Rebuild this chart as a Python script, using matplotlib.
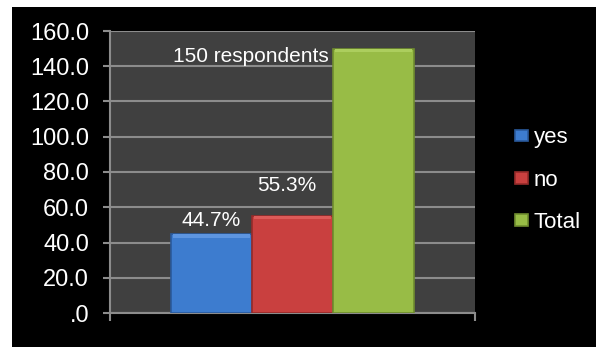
import numpy as np
import matplotlib
matplotlib.use('Agg')
import matplotlib.pyplot as plt
from matplotlib.patches import Rectangle

plt.rcParams['font.family'] = ['Liberation Sans', 'DejaVu Sans']

# Datos
series = ['yes', 'no', 'Total']
valores = [44.7, 55.3, 150.0]
etiquetas = ['44.7%', '55.3%', '150 respondents']
colores = ['#3d7ccf', '#c9403f', '#98bc46']
bordes = ['#2a5a9c', '#952b2a', '#6f8c2e']
brillo = ['#5d95e0', '#db5a58', '#acce5e']
yticks = np.arange(0, 161, 20)
ytick_labels = ['.0'] + ['%.1f' % v for v in yticks[1:]]

fig = plt.figure(figsize=(5.96, 3.47), dpi=100)
fig.patch.set_facecolor('white')
# fondo negro (deja un margen blanco arriba y a la izquierda)
fig.add_artist(Rectangle((12 / 596, 0), 1, 1 - 7 / 347, transform=fig.transFigure,
                         facecolor='black', edgecolor='none', zorder=0))

ax = fig.add_axes([110 / 596, 34 / 347, 365 / 596, 282 / 347])
ax.set_facecolor('#404040')

ancho = 0.222
pos = (np.arange(len(valores)) - 1) * ancho
for x, v, c, b, br, s in zip(pos, valores, colores, bordes, brillo, series):
    ax.bar(x, v, width=ancho, color=c, edgecolor=b, linewidth=1.2, label=s, zorder=3)
    # borde superior brillante (efecto biselado)
    ax.bar(x, 2.0, bottom=v - 2.0, width=ancho * 0.95, color=br, linewidth=0, zorder=4)

gris = '#8c8c8c'
ax.set_ylim(0, 160)
ax.set_xlim(-0.5, 0.5)
ax.set_yticks(yticks)
ax.set_yticklabels(ytick_labels)
ax.set_xticks([-0.5, 0.5])
ax.set_xticklabels(['', ''])
ax.tick_params(axis='y', colors=gris, labelcolor='white', labelsize=17, length=5, width=1.5, pad=10)
ax.tick_params(axis='x', colors=gris, length=6, width=1.5)
ax.grid(True, axis='y', color=gris, linewidth=1.5, zorder=1)
ax.set_axisbelow(True)
for lado in ['top', 'right']:
    ax.spines[lado].set_visible(False)
for lado in ['left', 'bottom']:
    ax.spines[lado].set_color(gris)
    ax.spines[lado].set_linewidth(1.5)

# Etiquetas de datos
ax.annotate(etiquetas[0], (pos[0], valores[0]), xytext=(0, 3), textcoords='offset points',
            ha='center', va='bottom', color='white', fontsize=15, zorder=5)
ax.annotate(etiquetas[1], (pos[1], valores[1]), xytext=(-4, 15), textcoords='offset points',
            ha='center', va='bottom', color='white', fontsize=15, zorder=5)
ax.annotate(etiquetas[2], (pos[2] - ancho / 2, valores[2]), xytext=(-3, -6), textcoords='offset points',
            ha='right', va='center', color='white', fontsize=15, zorder=5)

leg = fig.legend(loc='center left', bbox_to_anchor=(515 / 596, 1 - 180 / 347), frameon=False,
                 fontsize=16, handlelength=0.6, handleheight=0.45, handletextpad=0.25,
                 labelspacing=0.95, borderpad=0, borderaxespad=0)
for t in leg.get_texts():
    t.set_color('white')

fig.savefig('out.png', dpi=100, facecolor=fig.get_facecolor())
